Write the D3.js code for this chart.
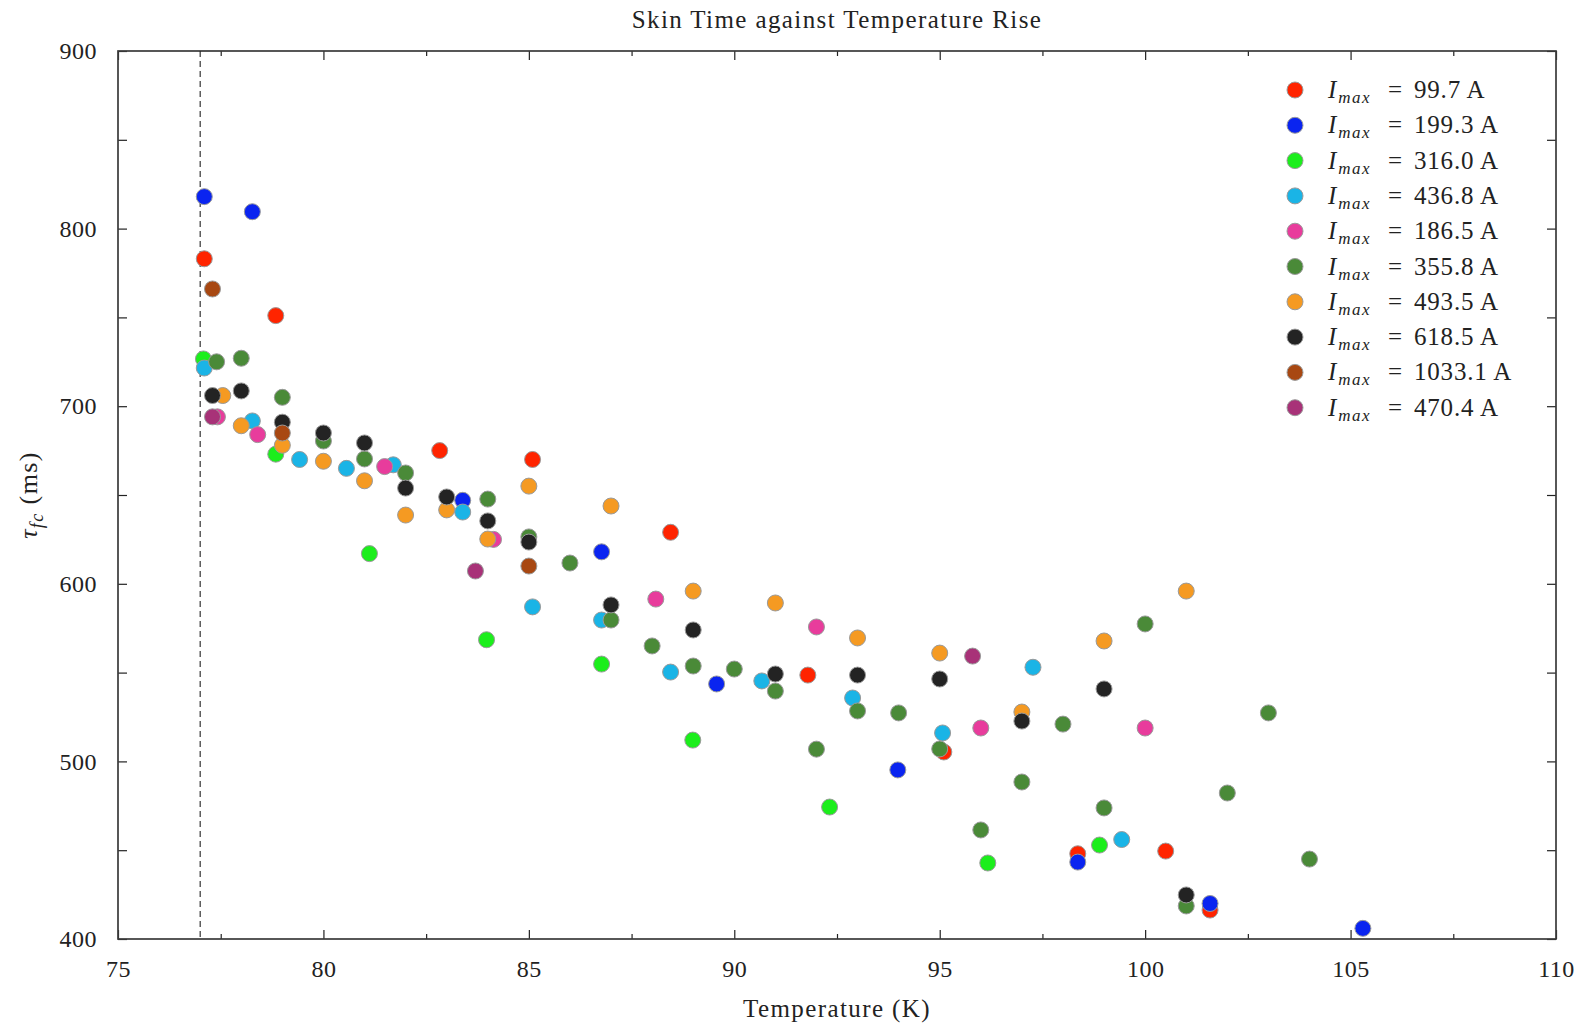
<!DOCTYPE html>
<html>
<head>
<meta charset="utf-8">
<script src="https://cdn.jsdelivr.net/npm/d3@7"></script>
<style>
body { margin: 0; background: #fff; }
svg { font-family: "Liberation Serif", "DejaVu Serif", serif; }
.axis path { display: none; }
.axis line { stroke: #222; stroke-width: 1.2; }
.axis text { font-size: 24px; fill: #222; font-family: "Liberation Serif", serif; letter-spacing: 0.5px; }
</style>
</head>
<body>
<svg id="chart"></svg>
<script>
var width = 1581;
var height = 1025;
var margin = {left: 118, right: 25, top: 51, bottom: 86};
var markerRadius = 8;

// series: legend labels and [temperature (K), tau_fc (ms)] pairs
var currents = ["99.7", "199.3", "316.0", "436.8", "186.5", "355.8", "493.5", "618.5", "1033.1", "470.4"];
var colors = ["#ff2400", "#0a24f0", "#1cee1c", "#1ab4e6", "#e83c9c", "#4a8a38", "#f59a22", "#232323", "#a84812", "#a83278"];

var s997 = [[77.1,783],[78.84,751],[82.83,675],[85.09,670],[88.45,629],[91.79,548.6],[95.1,505.3],[98.36,448],[100.5,449.5],[101.58,416.3]];
var s1993 = [[77.1,818],[78.27,809.5],[83.39,647],[86.77,618],[89.57,543.6],[93.98,495.2],[98.36,443.3],[101.58,420],[105.3,406]];
var s3160 = [[77.08,726.6],[78.84,673],[81.12,617],[83.97,568.5],[86.77,554.8],[88.99,512],[92.32,474.3],[96.17,442.8],[98.89,452.9]];
var s4368 = [[77.1,721.5],[78.27,691.7],[79.42,670],[80.56,665],[81.7,667],[83.39,640.4],[85.09,587],[86.77,579.6],[88.45,550.3],[90.67,545.3],[92.88,535.7],[95.07,516],[97.27,553],[99.43,456]];
var s1865 = [[77.42,694],[78.4,684],[81.49,666],[84.14,625],[88.09,591.4],[92,575.7],[96,518.8],[100,518.8]];
var s3558 = [[77.4,725],[78,727],[79,705],[80,680.4],[81,670.3],[82,662.4],[84,647.7],[85,626.4],[86,611.7],[87,579.6],[88,565],[89,553.7],[90,552],[91,539.6],[92,506.9],[93,528.4],[94,527.3],[95,507],[96,461.4],[97,488.4],[98,521],[99,473.8],[100,577.4],[101,418.6],[102,482.2],[103,527.3],[104,445]];
var s4935 = [[77.55,706],[78,689],[79,678],[80,669],[81,658],[82,638.7],[83,641.6],[84,625.2],[85,655],[87,643.8],[89,595.9],[91,589.2],[93,569.5],[95,561],[97,527.8],[99,567.8],[101,595.9]];
var s6185 = [[77.3,706],[78,708.6],[79,691],[80,684.9],[81,679.3],[82,653.9],[83,648.9],[84,635.4],[85,623.5],[87,588.1],[89,574],[91,549.2],[93,548.6],[95,546.4],[97,522.7],[99,540.8],[101,424.8]];
var s10331 = [[77.3,766],[79,684.9],[85,610]];
var s4704 = [[77.3,694],[83.7,607.2],[95.8,559.3]];
var seriesData = [s997, s1993, s3160, s4368, s1865, s3558, s4935, s6185, s10331, s4704];

var xDomain = [75, 110];
var yDomain = [400, 900];
var xMajor = d3.range(75, 111, 5);
var xMinor = d3.range(77.5, 110, 5);
var yMajor = d3.range(400, 901, 100);
var yMinor = d3.range(450, 900, 100);
var liquidN2 = 77;

var svg = d3.select("#chart").attr("width", width).attr("height", height);

var x = d3.scaleLinear().domain(xDomain).range([margin.left, width - margin.right]);
var y = d3.scaleLinear().domain(yDomain).range([height - margin.bottom, margin.top]);

var x0 = x.range()[0], x1 = x.range()[1];
var y0 = y.range()[1], y1 = y.range()[0];

// axes (ticks drawn inward on all four sides)
svg.append("g").attr("class", "axis")
.attr("transform", "translate(0," + y1 + ")")
.call(d3.axisBottom(x).tickValues(xMajor).tickSize(-9).tickPadding(21).tickFormat(d3.format("d")));
svg.append("g").attr("class", "axis")
.attr("transform", "translate(0," + y1 + ")")
.call(d3.axisBottom(x).tickValues(xMinor).tickSize(-5).tickFormat(""));
svg.append("g").attr("class", "axis")
.attr("transform", "translate(0," + y0 + ")")
.call(d3.axisTop(x).tickValues(xMajor).tickSize(-9).tickFormat(""));
svg.append("g").attr("class", "axis")
.attr("transform", "translate(0," + y0 + ")")
.call(d3.axisTop(x).tickValues(xMinor).tickSize(-5).tickFormat(""));

svg.append("g").attr("class", "axis")
.attr("transform", "translate(" + x0 + ",0)")
.call(d3.axisLeft(y).tickValues(yMajor).tickSize(-9).tickPadding(21).tickFormat(d3.format("d")));
svg.append("g").attr("class", "axis")
.attr("transform", "translate(" + x0 + ",0)")
.call(d3.axisLeft(y).tickValues(yMinor).tickSize(-9).tickFormat(""));
svg.append("g").attr("class", "axis")
.attr("transform", "translate(" + x1 + ",0)")
.call(d3.axisRight(y).tickValues(yMajor.concat(yMinor)).tickSize(-9).tickFormat(""));

// frame
svg.append("rect")
.attr("x", x0).attr("y", y0)
.attr("width", x1 - x0).attr("height", y1 - y0)
.attr("fill", "none")
.attr("stroke", "#3a3a3a")
.attr("stroke-width", 1.7);

// 77 K reference line
svg.append("line")
.attr("x1", x(liquidN2)).attr("x2", x(liquidN2))
.attr("y1", y0).attr("y2", y1)
.attr("stroke", "#222")
.attr("stroke-width", 1.1)
.attr("stroke-dasharray", "6,4");

// points, drawn in legend order
var gPoints = svg.append("g").attr("class", "points");
seriesData.forEach(function(pts, i) {
	gPoints.append("g")
	.selectAll("circle")
	.data(pts)
	.enter()
	.append("circle")
	.attr("cx", function(d) { return x(d[0]); })
	.attr("cy", function(d) { return y(d[1]); })
	.attr("r", markerRadius)
	.attr("fill", colors[i])
	.attr("stroke", "#9a9a9a")
	.attr("stroke-width", 1);
});

// legend
var legend = svg.append("g").attr("class", "legend")
.attr("transform", "translate(1295,90)");
var rows = legend.selectAll("g").data(currents).enter()
.append("g")
.attr("transform", function(d, i) { return "translate(0," + (i * 35.3) + ")"; });
rows.append("circle")
.attr("r", markerRadius)
.attr("fill", function(d, i) { return colors[i]; })
.attr("stroke", "#9a9a9a")
.attr("stroke-width", 1);
var lt = rows.append("text")
.attr("y", 8)
.attr("font-size", 25)
.attr("fill", "#222");
lt.append("tspan").attr("x", 33).attr("font-style", "italic").text("I");
lt.append("tspan").attr("font-style", "italic").attr("font-size", 17)
.attr("letter-spacing", 1.5).attr("dx", 2).attr("dy", 5).text("max");
lt.append("tspan").attr("x", 93).attr("dy", -5).text("=");
lt.append("tspan").attr("x", 119).attr("letter-spacing", 0.8)
.text(function(d) { return d + " A"; });

// title and axis labels
svg.append("text")
.attr("x", (x0 + x1) / 2).attr("y", 28)
.attr("text-anchor", "middle")
.attr("font-size", 25)
.attr("letter-spacing", 1.4)
.attr("fill", "#222")
.text("Skin Time against Temperature Rise");

svg.append("text")
.attr("x", (x0 + x1) / 2).attr("y", 1017)
.attr("text-anchor", "middle")
.attr("font-size", 25)
.attr("letter-spacing", 1.4)
.attr("fill", "#222")
.text("Temperature (K)");

var yl = svg.append("text")
.attr("transform", "translate(37," + ((y0 + y1) / 2) + ") rotate(-90)")
.attr("text-anchor", "middle")
.attr("font-size", 26)
.attr("letter-spacing", 1.4)
.attr("fill", "#222");
yl.append("tspan").attr("font-style", "italic").text("τ");
yl.append("tspan").attr("font-style", "italic").attr("font-size", 18).attr("dy", 6).text("fc");
yl.append("tspan").attr("dy", -6).text(" (ms)");
</script>
</body>
</html>
